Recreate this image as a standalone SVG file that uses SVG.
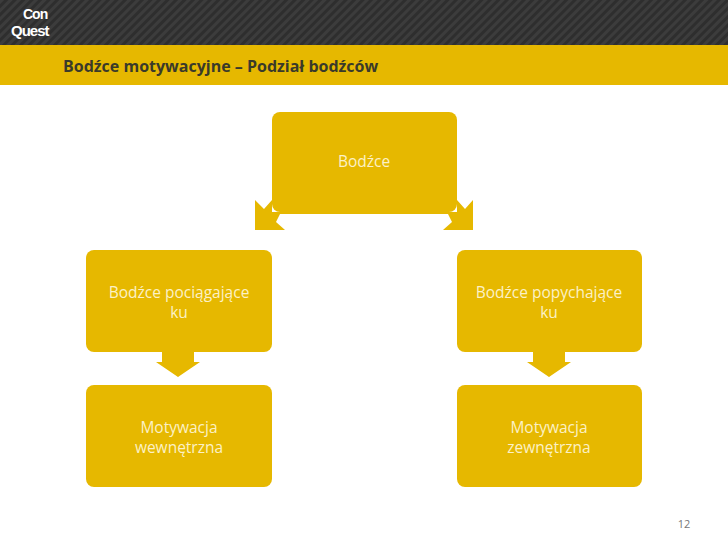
<svg xmlns="http://www.w3.org/2000/svg" width="728" height="546" viewBox="0 0 728 546">
<defs>
<pattern id="stripes" width="6" height="6" patternUnits="userSpaceOnUse" patternTransform="rotate(45)">
<rect width="6" height="6" fill="#2e2e2e"/><rect width="3" height="6" fill="#3c3c3c"/>
</pattern>
<style>
.n{fill:#E6B800}
.t{font-family:"Open Sans","Liberation Sans",sans-serif;font-size:15.5px;fill:#FCF1C6;text-anchor:middle}
</style>
</defs>
<rect width="728" height="546" fill="#fff"/>
<rect width="728" height="45" fill="url(#stripes)"/>
<rect y="45" width="728" height="40" fill="#E6B800"/>
<text x="23" y="19" font-family="Liberation Sans,sans-serif" font-size="14" font-weight="bold" fill="#fff" letter-spacing="-1">Con</text>
<text x="11" y="36" font-family="Liberation Sans,sans-serif" font-size="15" font-weight="bold" fill="#fff" letter-spacing="-1">Quest</text>
<text x="63" y="72" font-family="Open Sans,Liberation Sans,sans-serif" font-size="16" font-weight="bold" fill="#3a3a2a">Bodźce motywacyjne – Podział bodźców</text>
<g id="connectors" class="n">
<polygon class="n" points="255,200 264,209 272,200 272,212 457,212 457,200 465,209 473,200 473,230 443,230 452,222 448,214 280,214 276,222 285,230 255,230"/>
<polygon class="n" points="162,352 194,352 194,362 200,362 178,377 156,362 162,362"/>
<polygon class="n" points="533,352 565,352 565,362 571,362 549,377 527,362 533,362"/>
</g>
<g id="n0"><rect class="n" x="272" y="112" width="185" height="100" rx="8"/><text class="t" x="364" y="167">Bodźce</text></g>
<g id="n1"><rect class="n" x="86" y="250" width="186" height="102" rx="8"/><text class="t" x="179" y="298">Bodźce pociągające</text><text class="t" x="179" y="318">ku</text></g>
<g id="n2"><rect class="n" x="457" y="250" width="185" height="102" rx="8"/><text class="t" x="549" y="298">Bodźce popychające</text><text class="t" x="549" y="318">ku</text></g>
<g id="n3"><rect class="n" x="86" y="385" width="186" height="102" rx="8"/><text class="t" x="179" y="433">Motywacja</text><text class="t" x="179" y="453">wewnętrzna</text></g>
<g id="n4"><rect class="n" x="457" y="385" width="185" height="102" rx="8"/><text class="t" x="549" y="433">Motywacja</text><text class="t" x="549" y="453">zewnętrzna</text></g>
<text x="684" y="528" font-family="Open Sans,Liberation Sans,sans-serif" font-size="11" fill="#777" text-anchor="middle">12</text>
</svg>
